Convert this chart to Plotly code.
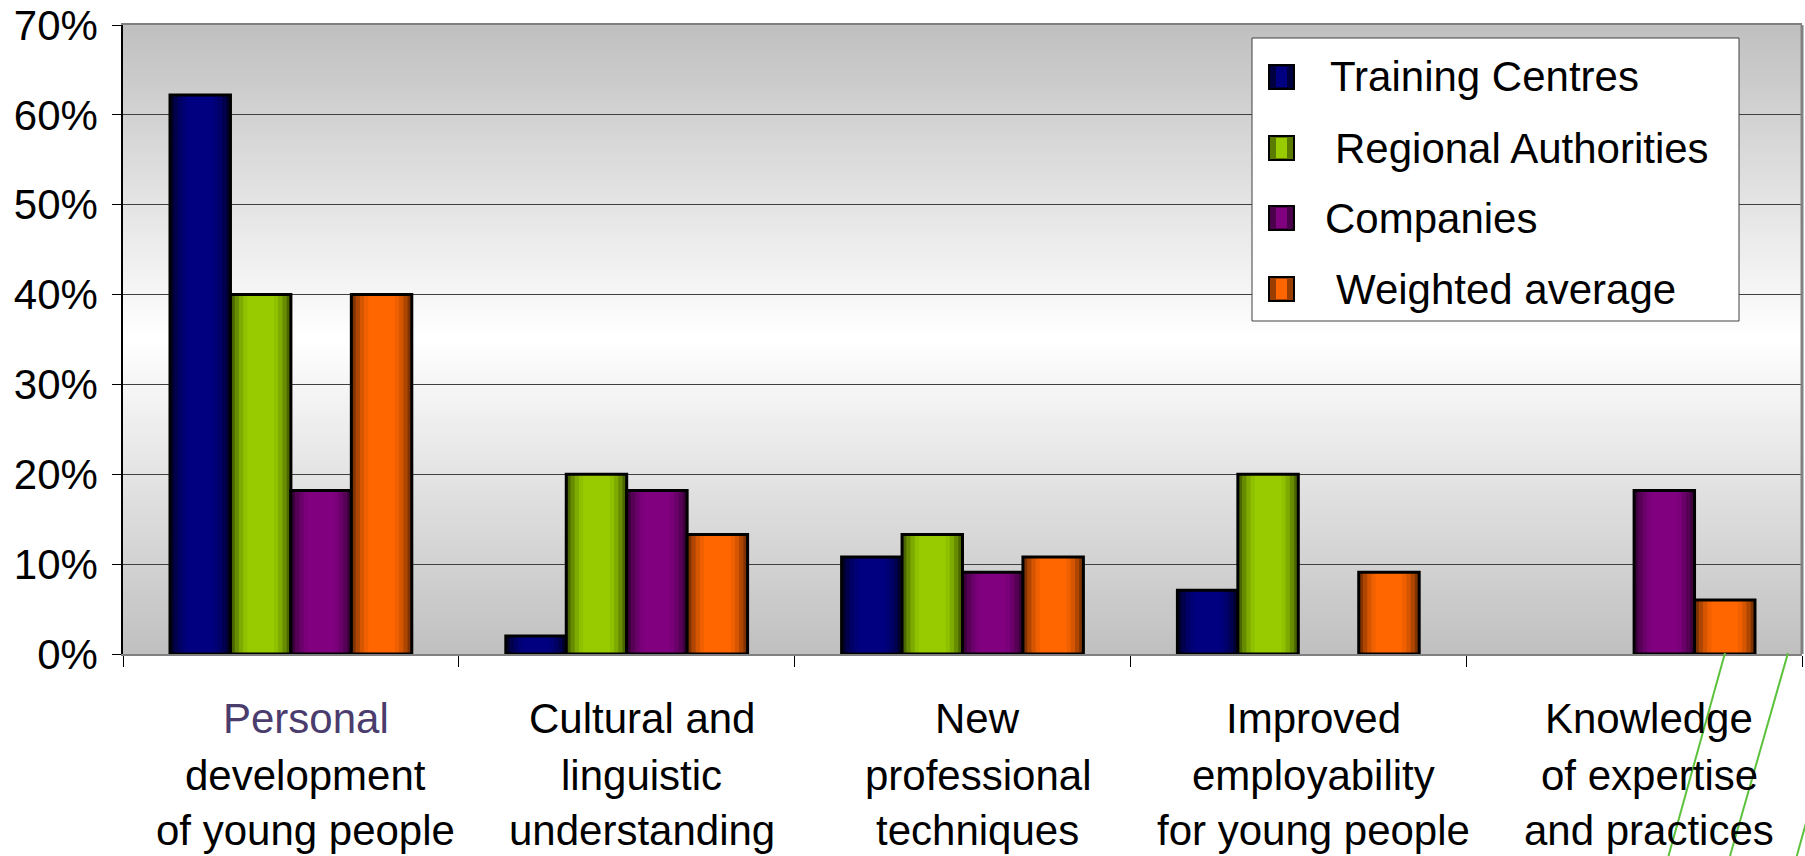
import plotly.graph_objects as go

# ---- data -------------------------------------------------------------
category_lines = [
    ["Personal", "development", "of young people"],
    ["Cultural and", "linguistic", "understanding"],
    ["New", "professional", "techniques"],
    ["Improved", "employability", "for young people"],
    ["Knowledge", "of expertise", "and practices"],
]
series_names = ["Training Centres", "Regional Authorities", "Companies", "Weighted average"]
training_centres = [62.2, 2, 10.8, 7.1, 0]
regional_authorities = [40, 20, 13.3, 20, 0]
companies = [18.2, 18.2, 9.1, 0, 18.2]
weighted_average = [40, 13.3, 10.8, 9.1, 6]
y_ticks = [0, 10, 20, 30, 40, 50, 60, 70]
y_tick_labels = ["0%", "10%", "20%", "30%", "40%", "50%", "60%", "70%"]

# ---- styling ----------------------------------------------------------
FONT = "Liberation Sans, Arial, sans-serif"
W, H = 1805, 856
L, R, T, B = 123, 3, 25, 202
PW, PH = W - L - R, H - T - B

edge_colors = [(0, 0, 48), (74, 102, 0), (61, 0, 61), (127, 51, 0)]
center_colors = [(0, 0, 128), (153, 204, 0), (128, 0, 128), (255, 102, 0)]

BAR_W = 0.18
GROUP_LEFT = -0.36
band_fracs = [1.0, 0.86, 0.72, 0.58, 0.44]


def mix(c1, c2, f):
    return "rgb(%d,%d,%d)" % tuple(round(a + (b - a) * f) for a, b in zip(c1, c2))


def px_x(px):
    return (px - L) / PW


def px_y(py):
    return (H - B - py) / PH


all_series = [training_centres, regional_authorities, companies, weighted_average]
cat_idx = list(range(len(category_lines)))

fig = go.Figure()

# bars: banded horizontal shading, then a black outline on top
for i, vals in enumerate(all_series):
    shown = [v if v else None for v in vals]
    left = GROUP_LEFT + i * BAR_W
    for k, frac in enumerate(band_fracs):
        f = k / (len(band_fracs) - 1)
        f = 1 - (1 - f) ** 1.6
        fig.add_trace(go.Bar(
            x=cat_idx, y=shown,
            width=BAR_W * frac,
            offset=left + BAR_W * (1 - frac) / 2,
            marker=dict(color=mix(edge_colors[i], center_colors[i], f), line=dict(width=0)),
            showlegend=False, hoverinfo="skip",
        ))
    fig.add_trace(go.Bar(
        x=cat_idx, y=shown, width=BAR_W, offset=left,
        marker=dict(color="rgba(0,0,0,0)", line=dict(color="black", width=3)),
        name=series_names[i], showlegend=False,
    ))

shapes = []

# plot-area background: grey at top and bottom, white in the middle
n_bands = 140
y_top = y_ticks[-1]
for b in range(n_bands):
    y0 = y_top * b / n_bands
    y1 = y_top * (b + 1) / n_bands
    ym = (y0 + y1) / 2
    d = abs(ym - y_top / 2) / (y_top / 2)
    g = round(255 - (255 - 192) * d)
    shapes.append(dict(type="rect", xref="x domain", yref="y", x0=0, x1=1,
                       y0=y0, y1=min(y1 + 0.15, y_top),
                       fillcolor="rgb(%d,%d,%d)" % (g, g, g), line=dict(width=0), layer="below"))

# right border of plot area
shapes.append(dict(type="line", xref="paper", yref="paper", x0=1, x1=1, y0=0, y1=1,
                   line=dict(color="#808080", width=3), layer="above"))

# legend box
shapes.append(dict(type="rect", xref="paper", yref="paper",
                   x0=px_x(1252), x1=px_x(1739), y0=px_y(321), y1=px_y(38),
                   fillcolor="white", line=dict(color="#404040", width=1), layer="above"))

annotations = []
legend_y = [77, 148, 218, 289]
legend_text_x = [1328, 1333, 1323, 1334]
for i, name in enumerate(series_names):
    cy = legend_y[i]
    shapes.append(dict(type="rect", xref="paper", yref="paper",
                       x0=px_x(1269), x1=px_x(1294), y0=px_y(cy + 12), y1=px_y(cy - 12),
                       fillcolor=mix(edge_colors[i], center_colors[i], 0.2),
                       line=dict(color="black", width=2), layer="above"))
    shapes.append(dict(type="rect", xref="paper", yref="paper",
                       x0=px_x(1276), x1=px_x(1287), y0=px_y(cy + 10), y1=px_y(cy - 10),
                       fillcolor=mix(edge_colors[i], center_colors[i], 1.0),
                       line=dict(width=0), layer="above"))
    annotations.append(dict(xref="paper", yref="paper", x=px_x(legend_text_x[i]), y=px_y(cy),
                            xanchor="left", yanchor="middle", text=name, showarrow=False,
                            font=dict(family=FONT, size=42, color="black")))

# decorative green strokes below the last category
for xb, xt, yt in [(1668.5, 1725, 653), (1730, 1788, 653), (1796.8, 1853, 653)]:
    shapes.append(dict(type="line", xref="paper", yref="paper",
                       x0=px_x(xt), y0=px_y(yt), x1=px_x(xb), y1=px_y(856),
                       line=dict(color="#5CC23C", width=2), layer="above"))

# category labels
line_centers = [719, 775, 830]
for c, lines in enumerate(category_lines):
    for j, txt in enumerate(lines):
        color = "#4B3C6E" if (c == 0 and j == 0) else "black"
        annotations.append(dict(xref="x", yref="paper", x=c, xshift=15,
                                y=px_y(line_centers[j]), xanchor="center", yanchor="middle",
                                text=txt, showarrow=False,
                                font=dict(family=FONT, size=42, color=color)))

fig.update_layout(
    width=W, height=H,
    margin=dict(l=L, r=R, t=T, b=B, pad=0),
    paper_bgcolor="white", plot_bgcolor="white",
    barmode="overlay",
    showlegend=False,
    shapes=shapes, annotations=annotations,
    font=dict(family=FONT, size=42, color="black"),
    xaxis=dict(range=[-0.5, 4.5], tickvals=[x - 0.5 for x in range(6)],
               showticklabels=False, ticks="outside", ticklen=11, tickcolor="black",
               tickwidth=1, showgrid=False, zeroline=False,
               showline=True, mirror=True, linecolor="#808080", linewidth=2),
    yaxis=dict(range=[0, 70], tickmode="array", tickvals=y_ticks, ticktext=y_tick_labels,
               ticks="outside", ticklen=9, tickcolor="black", tickwidth=1,
               tickfont=dict(family=FONT, size=42, color="black"),
               ticklabelstandoff=6,
               showgrid=True, gridcolor="#404040", gridwidth=1, zeroline=False,
               showline=True, linecolor="black", linewidth=1.5),
)

fig.write_html("out.html")
